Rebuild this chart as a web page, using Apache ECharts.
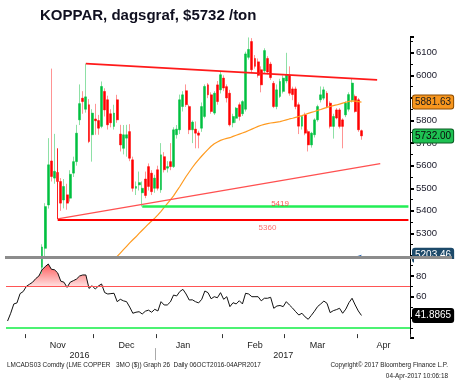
<!DOCTYPE html>
<html><head><meta charset="utf-8">
<script src="https://cdn.jsdelivr.net/npm/echarts@6/dist/echarts.min.js"></script>
<style>html,body{margin:0;padding:0;background:#fff}#c{width:461px;height:387px}</style>
</head><body><div id="c"></div>
<script>
// ---- categories: LME trading days ----
const firstDay = '2016-10-24', lastDay = '2017-04-27';
const holidays = ['2016-12-26','2016-12-27','2017-01-02','2017-04-14','2017-04-17'];
const monthNames = ['Jan','Feb','Mar','Apr','May','Jun','Jul','Aug','Sep','Oct','Nov','Dec'];
const dates = [];
(function(){
  let d = new Date(firstDay + 'T00:00:00Z'); const e = new Date(lastDay + 'T00:00:00Z');
  while (d <= e) { const wd = d.getUTCDay(); const s = d.toISOString().slice(0,10);
    if (wd !== 0 && wd !== 6 && holidays.indexOf(s) < 0) dates.push(s);
    d = new Date(d.getTime() + 86400000); }
})();

// ---- price candles (from 2016-11-08, index 11) ----
const candleStart = 11;
const opens = [5150,5234,5426,5621,5545,5570,5530,5448,5471,5456,
 5567,5618,5803,5899,5850,5870,5737,5807,5800,5774,
 5929,5892,5830,5774,5892,5740,5677,5722,5751,5626,
 5500,5515,5480,5541,5596,5567,5500,5582,5493,5640,
 5589,5618,5596,5737,5759,5862,5932,5862,5759,5762,
 5745,5766,5818,5958,5914,5833,5958,5936,5988,5950,
 5921,5790,5810,5870,5830,5850,6080,6150,6075,6060,
 6025,6020,6075,6050,5965,5862,5907,5929,5975,6000,
 5940,5940,5870,5775,5825,5751,5692,5737,5803,5892,
 5899,5921,5877,5774,5847,5847,5803,5825,5850,5890,
 5907,5892,5755];
const highs = [5252,5434,5722,6030,5741,5610,5545,5541,5520,5580,
 5640,5781,5960,5930,6052,5895,5850,5874,5825,5973,
 5943,5910,5850,5870,5914,5781,5780,5781,5784,5640,
 5530,5574,5530,5574,5610,5580,5560,5600,5700,5660,
 5620,5700,5770,5780,5915,5930,5960,5870,5800,5796,
 5755,5880,5960,5966,5925,5930,5975,6020,6000,5960,
 5936,5830,5860,5880,5890,6105,6168,6165,6090,6075,
 6040,6120,6085,6060,5975,5960,5985,6000,6100,6040,
 5950,5950,5880,5820,5835,5760,5750,5810,5870,5951,
 5950,5930,5885,5830,5855,5855,5810,5885,5925,5988,
 5915,5900,5760];
const lows = [5120,5200,5410,5530,5520,5510,5400,5411,5405,5441,
 5550,5600,5780,5830,5835,5700,5618,5737,5737,5766,
 5818,5760,5770,5760,5790,5663,5650,5640,5620,5485,
 5470,5490,5419,5456,5490,5470,5480,5490,5480,5570,
 5570,5580,5590,5720,5740,5840,5860,5740,5700,5677,
 5677,5750,5810,5899,5830,5825,5870,5920,5930,5880,
 5774,5770,5790,5800,5820,5840,6070,6010,6030,5990,
 5925,6010,6005,5980,5855,5850,5900,5920,5965,5910,
 5890,5850,5740,5760,5735,5663,5680,5725,5795,5880,
 5890,5855,5765,5720,5805,5765,5677,5815,5840,5880,
 5835,5750,5715];
const closes = [5240,5419,5604,5552,5575,5530,5434,5508,5434,5562,
 5618,5744,5875,5884,5905,5707,5833,5799,5766,5951,
 5847,5781,5790,5833,5803,5692,5737,5737,5633,5500,
 5508,5525,5500,5468,5508,5485,5545,5500,5648,5582,
 5596,5596,5759,5762,5892,5914,5870,5759,5793,5744,
 5735,5862,5951,5914,5840,5921,5884,6003,5944,5900,
 5781,5818,5855,5818,5884,6095,6115,6025,6040,6000,
 5958,6110,6015,5990,5862,5936,5973,5988,6003,5921,
 5915,5862,5775,5818,5744,5692,5744,5803,5862,5914,
 5936,5862,5774,5818,5811,5774,5774,5877,5915,5966,
 5840,5759,5732];

// ---- orange moving average (from index 33) ----
const maStart = 33;
const maValues = [5170,5185,5198,5213,5228,5243,5258,5272,5285,5300,5314,5328,5342,5355,5368,5382,5398,5415,5432,5449,
 5466,5487,5508,5530,5552,5572,5592,5610,5627,5643,5658,5672,5686,5697,5705,5712,5717,5721,5724,5730,
 5735,5740,5745,5750,5756,5762,5768,5774,5779,5783,5786,5789,5791,5793,5795,5799,5803,5807,5810,5814,
 5818,5822,5827,5832,5836,5840,5845,5849,5854,5858,5862,5866,5869,5873,5877,5881,5885,5887,5886,5884,5881.63];

// ---- blue long moving average (only its tail is visible) ----
const ma2Start = 110;
const ma2Values = [5190,5195,5199,5203.46];

// ---- RSI (from index 0) ----
const rsiValues = [36.5,44,53,54,63,65,70,72,74,77.5,
 80,86,89,91.6,86.5,86,83,75,74,69,
 74,75.5,77,80,81,81,68,70.6,67.4,70.3,
 72.3,64,62.6,63,63.3,55.2,57.5,56,55.2,50,
 44,45,45.5,43.3,46,47,45,47.8,46.2,55.2,
 52,52,55,61.6,60.7,65,67.1,62.6,56.8,57,
 55.2,54,57.5,65.5,63.9,58,60,59,63.9,57.5,
 60,50.4,54.2,53,56.1,53,63.3,62.6,60,60,
 60,56,58.5,58.5,59.4,48.8,51,51.5,50.4,55.2,
 52,49,45.5,42.3,44,40.5,38.2,42,46,50.5,
 53,55.8,53.6,44.6,46.5,47.5,48.8,44,48,54.2,
 58.5,52,46.2,41.8865];

// ---- annotation levels ----
const supportLow = 5360, supportMid = 5419;
const trendTop = [[25, 6052], [118, 5980]];
const trendLow = [[16, 5364], [119, 5609]];
const spike = [[16, 5364], [16, 5677]];

// ---- helpers ----
const N = dates.length;
function padLine(arr, start) { const out = []; for (let i = 0; i < start; i++) out.push('-'); return out.concat(arr); }
const emptyC = ['-','-','-','-'];
const wickData = [], bodyData = [];
for (let i = 0; i < candleStart; i++) { wickData.push(emptyC); bodyData.push(emptyC); }
opens.forEach((o, k) => {
  const c = closes[k];
  wickData.push([o, c, lows[k], highs[k]]);
  bodyData.push([o, c, Math.min(o, c), Math.max(o, c)]);
});
const monthStart = dates.map((d, i) => i > 0 && d.slice(5,7) !== dates[i-1].slice(5,7));
const monthMid = dates.map((d, i) => {
  const day = +d.slice(8,10);
  if (day > 15) return false;
  if (i === N - 1) return true;
  const nd = dates[i+1];
  return nd.slice(5,7) !== d.slice(5,7) || +nd.slice(8,10) > 15;
});
const yearStartIdx = dates.findIndex(d => d.slice(0,4) === '2017');
const yearMid = [Math.floor((yearStartIdx - 1) / 2), Math.floor((yearStartIdx + N - 1) / 2)];
const lastClose = closes[closes.length - 1];
const lastMa = maValues[maValues.length - 1];
const lastMa2 = ma2Values[ma2Values.length - 1];
const lastRsi = rsiValues[rsiValues.length - 1];

const FONT = 'Liberation Sans';
const CLEAR = 'rgba(0,0,0,0)';
function tag(v, text, bg, fg, border) {
  return { yAxis: v, lineStyle: { color: CLEAR, width: 0, type: 'solid' },
    label: { show: true, position: 'end', distance: 3, formatter: text,
      backgroundColor: bg, color: fg, borderColor: border, borderWidth: 1, borderRadius: 2,
      padding: [2, 2, 1, 2], fontSize: 10, fontFamily: FONT } };
}
const hidden = { show: false };

const chart = echarts.init(document.getElementById('c'), null, { renderer: 'canvas' });
chart.setOption({
  animation: false,
  backgroundColor: '#fff',
  title: { text: 'KOPPAR, dagsgraf, $5732 /ton', left: 40, top: 8, padding: 0,
    textStyle: { fontSize: 15, fontWeight: 'bold', fontFamily: FONT, color: '#101020' } },
  grid: [
    { left: 6, right: 51, top: 37, height: 219, outerBoundsMode: 'none' },
    { left: 6, right: 51, top: 255.3, height: 82.8, outerBoundsMode: 'none' }
  ],
  xAxis: [
    { type: 'category', gridIndex: 0, data: dates, boundaryGap: true, axisLine: hidden, axisTick: hidden, axisLabel: hidden, splitLine: hidden },
    { type: 'category', gridIndex: 1, data: dates, boundaryGap: true, axisLine: hidden,
      axisTick: { show: true, inside: true, length: 4, interval: (i) => monthStart[i], lineStyle: { color: '#333' } },
      axisLabel: { interval: (i) => monthMid[i], formatter: (v) => monthNames[+v.slice(5,7) - 1],
        margin: 3, fontSize: 9, fontFamily: FONT, color: '#222' }, splitLine: hidden },
    { type: 'category', gridIndex: 1, data: dates, boundaryGap: true, position: 'bottom', offset: 10, axisLine: hidden,
      axisTick: { show: true, length: 12, alignWithLabel: true, interval: (i) => i === yearStartIdx - 1, lineStyle: { color: '#aaa' } },
      axisLabel: { interval: (i) => yearMid.indexOf(i) >= 0, formatter: (v) => v.slice(0,4),
        margin: 3, fontSize: 9, fontFamily: FONT, color: '#222' }, splitLine: hidden }
  ],
  yAxis: [
    { type: 'value', gridIndex: 0, position: 'right', min: 5200, max: 6170, interval: 100, scale: true,
      axisLine: { show: true, lineStyle: { color: '#000', width: 1 } },
      axisTick: { show: true, length: 4, lineStyle: { color: '#000', width: 2 } },
      minorTick: { show: true, splitNumber: 2, length: 3, lineStyle: { color: '#000' } },
      axisLabel: { showMinLabel: false, showMaxLabel: false, margin: 6, fontSize: 9.5, fontFamily: FONT, color: '#1a1a2a',
        formatter: (v) => String(v) },
      splitLine: hidden },
    { type: 'value', gridIndex: 1, position: 'right', min: 20, max: 100, interval: 20,
      axisLine: { show: true, lineStyle: { color: '#000', width: 1 } },
      axisTick: { show: true, length: 4, lineStyle: { color: '#000', width: 2 } },
      minorTick: { show: true, splitNumber: 2, length: 3, lineStyle: { color: '#000' } },
      axisLabel: { showMinLabel: false, showMaxLabel: false, margin: 6, fontSize: 9.5, fontFamily: FONT, color: '#1a1a2a',
        formatter: (v) => String(v) },
      splitLine: hidden }
  ],
  series: [
    { type: 'candlestick', name: 'wick', xAxisIndex: 0, yAxisIndex: 0, data: wickData, barWidth: 1, clip: true, z: 2,
      itemStyle: { color: '#8ee0a6', color0: '#ff9494', borderColor: '#8ee0a6', borderColor0: '#ff9494', borderWidth: 1 },
      markLine: { silent: true, symbol: ['none','none'], animation: false, label: { show: false },
        data: [
          [{ coord: trendTop[0], lineStyle: { color: '#ff1a1a', width: 1.6, type: 'solid' } }, { coord: trendTop[1] }],
          [{ coord: trendLow[0], lineStyle: { color: '#ff5050', width: 1.3, type: 'solid' } }, { coord: trendLow[1] }],
          [{ coord: [16, supportLow], lineStyle: { color: '#ff0000', width: 2, type: 'solid' } }, { coord: [N - 1, supportLow] }],
          [{ coord: [43, supportMid], lineStyle: { color: '#22ee55', width: 2.5, type: 'solid' } }, { coord: [N - 1, supportMid] }],
          [{ coord: spike[0], lineStyle: { color: '#ff2020', width: 1, type: 'solid' } }, { coord: spike[1] }]
        ] } },
    { type: 'candlestick', name: 'body', xAxisIndex: 0, yAxisIndex: 0, data: bodyData, barWidth: 2.4, clip: true, z: 3,
      itemStyle: { color: '#00c040', color0: '#ff0000', borderColor: '#00c040', borderColor0: '#ff0000', borderWidth: 0.5 } },
    { type: 'line', name: 'ma', xAxisIndex: 0, yAxisIndex: 0, data: padLine(maValues, maStart), showSymbol: false, clip: true, z: 4,
      lineStyle: { color: '#ff9a1f', width: 1.2 } },
    { type: 'line', name: 'ma2', xAxisIndex: 0, yAxisIndex: 0, data: padLine(ma2Values, ma2Start), showSymbol: false, clip: true, z: 4,
      lineStyle: { color: '#2f6db5', width: 1 } },
    { type: 'line', name: 'tags', xAxisIndex: 0, yAxisIndex: 0, data: [], z: 20, silent: true,
      markLine: { silent: true, symbol: ['none','none'], animation: false,
        data: [
          tag(lastMa, lastMa.toFixed(2), '#f7961e', '#1a1a1a', '#8a4b00'),
          tag(lastClose, lastClose.toFixed(2), '#1ec152', '#0a0a0a', '#0a5a22'),
          tag(lastMa2, lastMa2.toFixed(2), '#1d4a6a', '#ffffff', '#1d4a6a')
        ] } },
    { type: 'scatter', name: 'levels', xAxisIndex: 0, yAxisIndex: 0, symbolSize: 0, z: 5,
      data: [
        { value: [87, supportMid], label: { position: 'top', distance: -1, color: '#ff2b2b' } },
        { value: [83, supportLow], label: { position: 'bottom', distance: 4, color: '#ff4a4a' } }
      ],
      label: { show: true, formatter: (p) => String(p.value[1]), fontSize: 8, fontFamily: FONT } },
    { type: 'line', name: 'rsiOB', xAxisIndex: 1, yAxisIndex: 1, data: rsiValues.map(v => Math.max(v, 70)),
      showSymbol: false, lineStyle: { width: 0 }, z: 2,
      areaStyle: { origin: 70, opacity: 1, color: new echarts.graphic.LinearGradient(0, 0, 0, 1, [
        { offset: 0, color: '#ff5a5a' }, { offset: 1, color: '#ffe0e0' } ]) } },
    { type: 'line', name: 'rsi', xAxisIndex: 1, yAxisIndex: 1, data: rsiValues, showSymbol: false, z: 4,
      lineStyle: { color: '#111', width: 1 },
      markLine: { silent: true, symbol: ['none','none'], animation: false, label: { show: false },
        data: [
          { yAxis: 70, lineStyle: { color: '#ff5555', width: 1, type: 'solid' } },
          { yAxis: 30, lineStyle: { color: '#11ee44', width: 1.5, type: 'solid' } }
        ] } },
    { type: 'line', name: 'rsiTag', xAxisIndex: 1, yAxisIndex: 1, data: [], z: 20, silent: true,
      markLine: { silent: true, symbol: ['none','none'], animation: false,
        data: [ tag(lastRsi, lastRsi.toFixed(4), '#000000', '#ffffff', '#000000') ] } }
  ],
  graphic: [
    { type: 'rect', shape: { x: 414, y: 259, width: 47, height: 8 }, style: { fill: '#ffffff' }, z: 99 },
    { type: 'rect', shape: { x: 5, y: 256, width: 447, height: 3 }, style: { fill: '#8c8c8c' }, z: 100 },
    { type: 'text', left: 7, top: 362, style: { text: 'LMCADS03 Comdty (LME COPPER', font: '6.4px "Liberation Sans"', fill: '#222' } },
    { type: 'text', left: 116, top: 362, style: { text: '3MO ($)) Graph 26  Daily 06OCT2016-04APR2017', font: '6.4px "Liberation Sans"', fill: '#222' } },
    { type: 'text', right: 13, top: 362, style: { text: 'Copyright\u00A9 2017 Bloomberg Finance L.P.', font: '6.4px "Liberation Sans"', fill: '#222' } },
    { type: 'text', right: 13, top: 373, style: { text: '04-Apr-2017 10:06:18', font: '6.4px "Liberation Sans"', fill: '#222' } }
  ]
});
</script>
</body></html>
